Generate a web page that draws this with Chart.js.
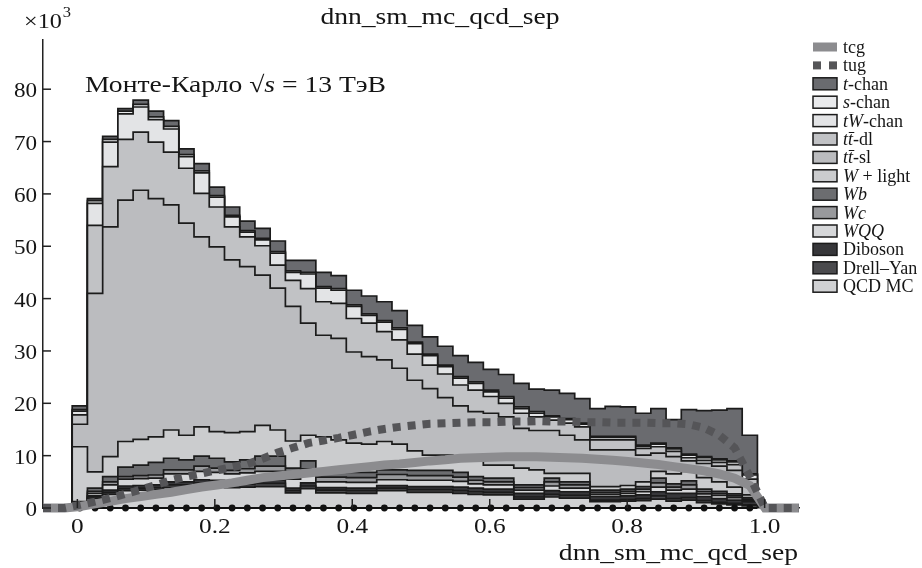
<!DOCTYPE html>
<html>
<head>
<meta charset="utf-8">
<script src="https://cdn.jsdelivr.net/npm/chart.js@4.4.0/dist/chart.umd.min.js"></script>
<style>
  html, body { margin: 0; padding: 0; background: #fff; }
  #wrap { position: relative; width: 922px; height: 568px; }
</style>
</head>
<body>
<div id="wrap"><canvas id="chart" width="922" height="568"></canvas></div>
<script>
// binning of dnn_sm_mc_qcd_sep
const nBins = 45;
const xLow = -0.0075;
const xHigh = 0.9895;

// axis ticks
const xTickValues = [0, 0.2, 0.4, 0.6, 0.8, 1.0];
const xTickLabels = ["0", "0.2", "0.4", "0.6", "0.8", "1.0"];
const yTickValues = [0, 10, 20, 30, 40, 50, 60, 70, 80];
const yTickLabels = ["0", "10", "20", "30", "40", "50", "60", "70", "80"];

// stacked MC, thousands of events per bin
const tChan = [0.7,0.4,0.6,0.5,0.8,1.1,1.1,1.1,1.4,1.6, 1.6,1.8,1.9,2.0,2.0,2.3,2.7,2.5,2.8,3.4, 3.6,3.3,3.2,3.3,3.6,4.0,3.7,4.0,4.2,4.5, 4.3,4.9,4.8,4.7,5.3,5.7,5.6,6.1,6.6,5.4, 8.5,8.8,9.3,10.0,7.4];
const sChan = [0.3,0.5,0.5,0.5,0.5,0.5,0.5,0.4,0.4,0.3, 0.3,0.3,0.3,0.3,0.3,0.3,0.3,0.3,0.3,0.3, 0.3,0.3,0.3,0.3,0.3,0.3,0.3,0.3,0.3,0.3, 0.3,0.2,0.2,0.2,0.2,0.2,0.2,0.2,0.2,0.2, 0.2,0.2,0.2,0.2,0.2];
const tWChan = [0.7,4.2,4.7,4.9,4.8,4.3,4.4,2.2,3.9,1.9, 1.9,0.9,1.1,2.3,1.5,2.8,2.6,2.5,2.3,1.5, 1.8,2.0,2.0,1.8,1.4,1.3,1.3,0.9,1.0,0.9, 0.7,0.6,0.7,0.5,0.5,0.5,0.5,0.4,0.5,0.5, 0.5,0.5,0.5,0.5,0.8];
const ttDl = [1.8,13.0,11.5,11.6,11.1,10.8,10.1,10.5,8.3,7.6, 6.3,5.7,5.6,4.4,5.0,6.6,6.4,6.7,6.4,6.4, 5.4,5.4,5.0,4.5,4.5,4.0,4.1,3.2,2.6,2.9, 2.6,2.0,2.3,2.5,1.9,1.9,1.9,1.3,1.2,1.0, 0.6,0.6,0.7,1.1,1.0];
const ttSl = [4.3,34.1,43.9,46.1,47.6,45.5,43.0,40.5,36.3,35.3, 33.0,31.5,28.7,27.1,25.7,21.4,19.4,19.4,17.4,16.7, 15.6,14.5,13.5,12.7,11.0,10.3,9.2,9.9,9.2,7.6, 7.5,8.2,7.3,6.4,7.0,7.0,6.8,5.1,3.5,3.3, 2.0,2.7,3.0,3.2,2.0];
const wLight = [10.5,3.1,3.8,4.9,4.9,4.9,5.4,4.7,5.6,5.1, 5.6,5.4,5.9,5.0,5.2,4.9,6.6,6.0,5.6,5.4, 5.4,4.9,3.7,2.9,2.9,2.4,3.2,2.5,2.5,3.2, 2.9,0.9,1.6,1.6,0.7,0.7,0.7,0.9,1.3,1.9, 1.8,2.2,1.8,1.3,0.5];
const wB = [0.2,0.6,1.0,1.8,2.0,2.4,2.2,1.9,1.9,1.9, 1.6,1.7,1.9,1.9,1.1,1.5,1.1,1.1,1.0,1.0, 0.9,0.9,1.0,1.0,1.0,0.9,0.7,0.7,0.7,0.5, 0.5,0.7,0.6,0.6,0.4,0.4,0.4,0.5,0.9,0.6, 0.8,0.5,0.4,0.4,0.3];
const wC = [0.2,0.4,0.6,0.5,0.6,0.6,0.8,0.8,1.0,0.8, 0.7,0.8,1.0,1.0,1.0,0.9,0.9,0.9,0.9,0.9, 1.0,1.0,0.9,0.9,0.9,0.8,0.7,0.6,0.6,0.5, 0.5,0.8,0.6,0.6,0.4,0.4,0.4,0.5,0.8,0.6, 0.8,0.4,0.4,0.3,0.2];
const wQQ = [0.2,0.5,1.0,1.3,1.3,1.3,1.5,1.5,1.6,1.5, 1.5,1.6,1.7,1.7,1.7,1.8,1.1,1.1,1.1,1.1, 1.1,1.1,1.2,1.2,1.2,1.1,0.8,0.8,0.8,0.6, 0.6,0.9,0.7,0.7,0.4,0.4,0.5,0.6,0.9,0.6, 0.8,0.5,0.6,0.5,0.3];
const diboson = [0.1,0.2,0.4,0.5,0.5,0.5,0.6,0.6,0.6,0.6, 0.6,0.6,0.6,0.6,0.5,0.6,0.5,0.5,0.5,0.5, 0.5,0.5,0.6,0.6,0.6,0.7,0.7,0.6,0.6,0.7, 0.7,0.7,0.7,0.7,0.7,0.7,0.7,0.7,0.8,1.0, 0.8,0.8,0.7,0.6,0.6];
const drellYan = [0.1,0.3,0.4,0.4,0.4,0.4,0.5,0.5,0.6,0.6, 0.5,0.5,0.6,0.6,0.4,0.5,0.5,0.5,0.5,0.5, 0.5,0.5,0.5,0.5,0.5,0.5,0.5,0.5,0.5,0.4, 0.4,0.5,0.5,0.5,0.3,0.3,0.3,0.4,0.6,0.5, 0.5,0.4,0.3,0.3,0.2];
const qcdMC = [0.4,1.8,2.6,3.3,3.4,3.5,3.9,3.9,4.2,4.1, 3.9,4.0,4.1,4.1,2.9,3.7,2.9,2.9,2.8,2.8, 3.3,3.3,3.0,3.0,3.0,2.8,2.6,2.5,2.5,1.7, 1.7,2.1,1.9,1.9,1.2,1.2,1.3,1.4,1.7,1.3, 1.5,1.0,0.8,0.6,0.4];

// signal curves (not stacked)
const tcg = [0.3,0.8,1.3,1.8,2.2,2.6,3.0,3.5,4.0,4.4, 4.8,5.3,5.8,6.1,6.4,6.7,7.0,7.3,7.6,7.9, 8.2,8.4,8.7,9.0,9.2,9.5,9.6,9.7,9.8,9.8, 9.8,9.7,9.6,9.5,9.3,9.1,8.9,8.6,8.3,7.9, 7.5,7.1,6.5,5.7,4.3];
const tug = [0.6,1.2,1.9,2.7,3.5,4.4,5.3,6.0,6.6,7.2, 7.8,8.4,9.4,10.6,11.5,12.4,12.9,13.4,14.0,14.6, 15.1,15.5,15.8,16.1,16.2,16.3,16.4,16.4,16.5,16.5, 16.6,16.5,16.5,16.4,16.4,16.3,16.3,16.3,16.2,16.2, 16.0,15.3,13.9,11.5,6.0];

// data
const dataCounts = [0,0,0,0,0,0,0,0,0,0, 0,0,0,0,0,0,0,0,0,0, 0,0,0,0,0,0,0,0,0,0, 0,0,0,0,0,0,0,0,0,0, 0,0,0,0,0];

const binW = (xHigh - xLow) / nBins;
const edges = Array.from({ length: nBins + 1 }, (_, i) => xLow + binW * i);
const centers = edges.slice(0, -1).map((e) => e + binW / 2);

// stack from bottom to top
const stackLayers = [
    { vals: qcdMC, color: "#d0d1d3" },
    { vals: drellYan, color: "#4a4a4d" },
    { vals: diboson, color: "#37373a" },
    { vals: wQQ, color: "#d6d7d9" },
    { vals: wC, color: "#98999c" },
    { vals: wB, color: "#6c6d70" },
    { vals: wLight, color: "#cbccce" },
    { vals: ttSl, color: "#bbbcbf" },
    { vals: ttDl, color: "#c1c2c5" },
    { vals: tWChan, color: "#e3e4e6" },
    { vals: sChan, color: "#e9eaec" },
    { vals: tChan, color: "#6a6b6f" },
];

function histOutline(vals) {
    const pts = [{ x: edges[0], y: 0 }];
    vals.forEach((v, i) => {
        pts.push({ x: edges[i], y: v });
        pts.push({ x: edges[i + 1], y: v });
    });
    pts.push({ x: edges[nBins], y: 0 });
    return pts;
}

function curvePoints(vals) {
    const pts = [{ x: -0.05, y: 0 }, { x: xLow - binW / 2, y: 0 }];
    vals.forEach((v, i) => pts.push({ x: centers[i], y: v }));
    pts.push({ x: xHigh + binW / 2, y: 0 }, { x: 1.05, y: 0 });
    return pts;
}

let running = new Array(nBins).fill(0);
const stackSets = stackLayers.map((layer) => {
    running = running.map((r, i) => r + layer.vals[i]);
    return {
        data: histOutline(running),
        fill: "origin",
        backgroundColor: layer.color,
        borderColor: "#1b1b1b",
        borderWidth: 1.7,
        pointRadius: 0,
    };
});

const datasets = [
    { // tug
        data: curvePoints(tug), borderColor: "#555558", borderWidth: 8,
        borderDash: [8, 7], borderCapStyle: "butt", pointRadius: 0, fill: false, clip: false,
    },
    { // tcg
        data: curvePoints(tcg), borderColor: "#8c8c8f", borderWidth: 9,
        borderCapStyle: "butt", pointRadius: 0, fill: false, clip: false,
    },
    { // data points
        data: centers.map((c, i) => ({ x: c, y: dataCounts[i] })), showLine: false,
        pointRadius: 3.4, pointBackgroundColor: "#111", pointBorderWidth: 0, clip: false,
    },
    { // data line
        data: [{ x: edges[0], y: 0 }, { x: edges[nBins], y: 0 }], borderColor: "#111",
        borderWidth: 2, pointRadius: 0, fill: false, clip: false,
    },
    ...stackSets,
];

const FONT = '"Liberation Serif", "Times New Roman", serif';

function drawText(ctx, text, x, y, size, align, sx, style) {
    ctx.save();
    ctx.font = (style || "") + " " + size + "px " + FONT;
    const w = ctx.measureText(text).width * sx;
    const x0 = align === "center" ? x - w / 2 : align === "right" ? x - w : x;
    ctx.translate(x0, y);
    ctx.scale(sx, 1);
    ctx.textAlign = "left";
    ctx.textBaseline = "alphabetic";
    ctx.fillText(text, 0, 0);
    ctx.restore();
    return w;
}

// legend: [symbol, fill colour, text parts]
const legendEntries = [
    ["band", "#8c8c8f", [["tcg", ""]]],
    ["dash", "#555558", [["tug", ""]]],
    ["box", "#6a6b6f", [["t", "italic"], ["-chan", ""]]],
    ["box", "#e9eaec", [["s", "italic"], ["-chan", ""]]],
    ["box", "#e3e4e6", [["tW", "italic"], ["-chan", ""]]],
    ["box", "#c1c2c5", [["tt\u0304", "italic"], ["-dl", ""]]],
    ["box", "#bbbcbf", [["tt\u0304", "italic"], ["-sl", ""]]],
    ["box", "#cbccce", [["W", "italic"], [" + light", ""]]],
    ["box", "#6c6d70", [["Wb", "italic"]]],
    ["box", "#98999c", [["Wc", "italic"]]],
    ["box", "#d6d7d9", [["WQQ", "italic"]]],
    ["box", "#37373a", [["Diboson", ""]]],
    ["box", "#4a4a4d", [["Drell\u2013Yan", ""]]],
    ["box", "#d0d1d3", [["QCD MC", ""]]],
];

const rootText = {
    id: "rootText",
    afterDraw(chart) {
        const ctx = chart.ctx;
        const xs = chart.scales.x;
        const ys = chart.scales.y;
        const area = chart.chartArea;
        ctx.save();
        ctx.strokeStyle = "#222";
        ctx.lineWidth = 1.5;
        yTickValues.forEach((v) => {
            const py = ys.getPixelForValue(v);
            ctx.beginPath();
            ctx.moveTo(area.left, py);
            ctx.lineTo(area.left + 8, py);
            ctx.stroke();
        });
        xTickValues.forEach((v) => {
            const px = xs.getPixelForValue(v);
            ctx.beginPath();
            ctx.moveTo(px, area.bottom);
            ctx.lineTo(px, area.bottom - 9);
            ctx.stroke();
        });

        ctx.fillStyle = "#151515";
        yTickValues.forEach((v, i) => {
            drawText(ctx, yTickLabels[i], area.left - 6, ys.getPixelForValue(v) + 8, 22, "right", 1.05);
        });
        xTickValues.forEach((v, i) => {
            drawText(ctx, xTickLabels[i], xs.getPixelForValue(v), area.bottom + 25, 22, "center", 1.15);
        });

        // titles
        drawText(ctx, "dnn_sm_mc_qcd_sep", 440, 24, 23, "center", 1.2);
        drawText(ctx, "dnn_sm_mc_qcd_sep", area.right - 1, 560, 23, "right", 1.2);
        let xx = 24;
        xx += drawText(ctx, "\u00d710", xx, 28, 22, "left", 1.1);
        drawText(ctx, "3", xx + 1, 17, 15, "left", 1.1);

        // Monte-Carlo label
        let ax = 85;
        ax += drawText(ctx, "Монте-Карло ", ax, 92, 23, "left", 1.2);
        ax += drawText(ctx, "\u221a", ax, 92, 23, "left", 1.2);
        ax += drawText(ctx, "s", ax, 92, 23, "left", 1.2, "italic");
        drawText(ctx, " = 13 ТэВ", ax, 92, 23, "left", 1.2);

        // legend
        legendEntries.forEach((entry, i) => {
            const [kind, color, parts] = entry;
            const cy = 47 + i * 18.4;
            if (kind === "band") {
                ctx.fillStyle = color;
                ctx.fillRect(813, cy - 4.5, 24, 9);
            } else if (kind === "dash") {
                ctx.fillStyle = color;
                ctx.fillRect(813, cy - 4, 8, 8);
                ctx.fillRect(829, cy - 4, 8, 8);
            } else {
                ctx.fillStyle = color;
                ctx.fillRect(813, cy - 6, 24, 12);
                ctx.strokeStyle = "#1b1b1b";
                ctx.lineWidth = 1.5;
                ctx.strokeRect(813, cy - 6, 24, 12);
            }
            ctx.fillStyle = "#151515";
            let tx = 843;
            parts.forEach(([txt, style]) => {
                tx += drawText(ctx, txt, tx, cy + 6, 18, "left", 1.0, style);
            });
        });
        ctx.restore();
    },
};

new Chart(document.getElementById("chart"), {
    type: "line",
    data: { datasets: datasets },
    options: {
        responsive: false,
        animation: false,
        devicePixelRatio: 1,
        layout: { padding: { top: 40, right: 123, left: 0, bottom: 0 } },
        plugins: { legend: { display: false }, tooltip: { enabled: false } },
        elements: { line: { tension: 0 } },
        scales: {
            x: {
                type: "linear",
                min: -0.05,
                max: 1.05,
                grid: { display: false, drawTicks: false },
                border: { display: true, color: "#222", width: 1.5 },
                ticks: { display: false },
                afterFit: (s) => { s.height = 60; },
            },
            y: {
                type: "linear",
                min: 0,
                max: 89.4,
                grid: { display: false, drawTicks: false },
                border: { display: true, color: "#222", width: 1.5 },
                ticks: { display: false },
                afterFit: (s) => { s.width = 43; },
            },
        },
    },
    plugins: [rootText],
});
</script>
</body>
</html>
